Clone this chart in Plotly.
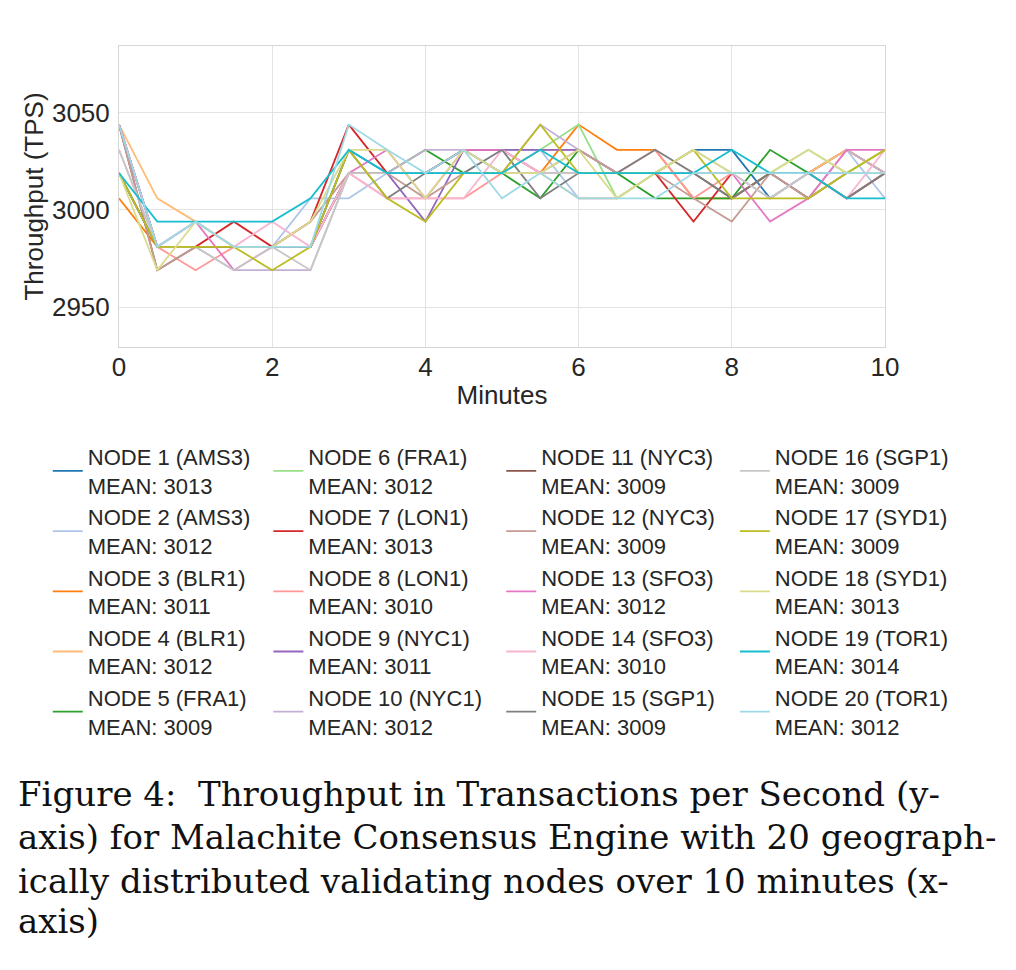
#!/usr/bin/env python3
"""
Throughput of the Malachite consensus engine, 20 validating nodes over 10 minutes
"""

import plotly.graph_objects as go

# Sample times (minutes)
minutes = [0, 0.5, 1, 1.5, 2, 2.5, 3, 3.5, 4, 4.5, 5,
           5.5, 6, 6.5, 7, 7.5, 8, 8.5, 9, 9.5, 10]

node_names = [
    'NODE 1 (AMS3)', 'NODE 2 (AMS3)', 'NODE 3 (BLR1)', 'NODE 4 (BLR1)',
    'NODE 5 (FRA1)', 'NODE 6 (FRA1)', 'NODE 7 (LON1)', 'NODE 8 (LON1)',
    'NODE 9 (NYC1)', 'NODE 10 (NYC1)', 'NODE 11 (NYC3)', 'NODE 12 (NYC3)',
    'NODE 13 (SFO3)', 'NODE 14 (SFO3)', 'NODE 15 (SGP1)', 'NODE 16 (SGP1)',
    'NODE 17 (SYD1)', 'NODE 18 (SYD1)', 'NODE 19 (TOR1)', 'NODE 20 (TOR1)',
]

node_means = [3013, 3012, 3011, 3012, 3009, 3012, 3013, 3010, 3011, 3012,
              3009, 3009, 3012, 3010, 3009, 3009, 3009, 3013, 3014, 3012]

# Throughput (TPS) per node
node1 = [3044, 2981, 2981, 2981, 2981, 2981, 3031, 3019, 3019, 3031, 3019,
         3019, 3019, 3019, 3019, 3031, 3031, 3006, 3019, 3031, 3019]
node2 = [3044, 2981, 2994, 2981, 2981, 3006, 3006, 3019, 3019, 3019, 3031,
         3031, 3006, 3006, 3019, 3019, 3019, 3019, 3019, 3031, 3006]
node3 = [3006, 2981, 2981, 2981, 2981, 2981, 3019, 3019, 3019, 3019, 3019,
         3019, 3044, 3031, 3031, 3006, 3006, 3019, 3019, 3031, 3019]
node4 = [3044, 3006, 2994, 2981, 2981, 2981, 3019, 3019, 3019, 3019, 3019,
         3019, 3006, 3006, 3019, 3019, 3019, 3019, 3019, 3031, 3019]
node5 = [3019, 2981, 2981, 2981, 2981, 2981, 3019, 3019, 3031, 3019, 3019,
         3006, 3031, 3019, 3006, 3006, 3006, 3031, 3019, 3019, 3019]
node6 = [3019, 2981, 2981, 2981, 2981, 2981, 3019, 3019, 3019, 3019, 3019,
         3031, 3044, 3006, 3019, 3019, 3019, 3019, 3031, 3019, 3031]
node7 = [3044, 2981, 2981, 2994, 2981, 2994, 3044, 3019, 3019, 3031, 3031,
         3019, 3019, 3019, 3019, 2994, 3019, 3019, 3019, 3006, 3019]
node8 = [3044, 2981, 2969, 2981, 2981, 2981, 3019, 3006, 3006, 3006, 3019,
         3031, 3031, 3019, 3031, 3006, 3019, 3019, 3019, 3019, 3019]
node9 = [3019, 2981, 2981, 2981, 2981, 2981, 3019, 3019, 2994, 3031, 3031,
         3031, 3031, 3019, 3019, 3019, 3019, 3019, 3019, 3019, 3019]
node10 = [3044, 2981, 2981, 2969, 2969, 2969, 3019, 3019, 3031, 3031, 3019,
          3044, 3031, 3019, 3019, 3019, 3019, 3019, 3006, 3031, 3019]
node11 = [3044, 2969, 2981, 2981, 2981, 2981, 3019, 3019, 3019, 3019, 3019,
          3019, 3019, 3019, 3019, 3019, 3006, 3019, 3006, 3019, 3019]
node12 = [3044, 2969, 2981, 2981, 2981, 2994, 3019, 3019, 3006, 3019, 3019,
          3019, 3031, 3019, 3019, 3006, 2994, 3019, 3006, 3019, 3019]
node13 = [3044, 2981, 2994, 2969, 2981, 2981, 3019, 3031, 3006, 3031, 3031,
          3019, 3019, 3019, 3019, 3019, 3019, 2994, 3006, 3031, 3031]
node14 = [3031, 2981, 2994, 2981, 2994, 2981, 3019, 3006, 3006, 3006, 3031,
          3019, 3019, 3019, 3019, 3019, 3019, 3006, 3019, 3006, 3031]
node15 = [3019, 2981, 2981, 2981, 2981, 2981, 3031, 3006, 3019, 3019, 3031,
          3006, 3019, 3019, 3031, 3019, 3006, 3019, 3019, 3006, 3019]
node16 = [3031, 2981, 2981, 2969, 2981, 2969, 3019, 3019, 3019, 3019, 3019,
          3019, 3019, 3019, 3019, 3031, 3019, 3006, 3019, 3019, 3019]
node17 = [3019, 2981, 2981, 2981, 2969, 2981, 3031, 3006, 2994, 3019, 3019,
          3044, 3019, 3019, 3019, 3031, 3006, 3006, 3006, 3019, 3031]
node18 = [3019, 2969, 2994, 2981, 2981, 2994, 3031, 3031, 3006, 3031, 3019,
          3019, 3031, 3006, 3019, 3031, 3019, 3019, 3031, 3019, 3019]
node19 = [3019, 2994, 2994, 2994, 2994, 3006, 3031, 3019, 3019, 3019, 3019,
          3031, 3019, 3019, 3019, 3019, 3031, 3019, 3019, 3006, 3006]
node20 = [3044, 2981, 2994, 2981, 2981, 2981, 3044, 3031, 3019, 3031, 3006,
          3019, 3006, 3006, 3006, 3019, 3019, 3019, 3019, 3019, 3019]

y_ticks = [2950, 3000, 3050]
x_ticks = [0, 2, 4, 6, 8, 10]

caption_lines = [
    'Figure 4:  Throughput in Transactions per Second (y-',
    'axis) for Malachite Consensus Engine with 20 geograph-',
    'ically distributed validating nodes over 10 minutes (x-',
    'axis)',
]

# matplotlib tab20
tab20 = ['#1f77b4', '#aec7e8', '#ff7f0e', '#ffbb78', '#2ca02c', '#98df8a',
         '#d62728', '#ff9896', '#9467bd', '#c5b0d5', '#8c564b', '#c49c94',
         '#e377c2', '#f7b6d2', '#7f7f7f', '#c7c7c7', '#bcbd22', '#dbdb8d',
         '#17becf', '#9edae5']

SANS = 'Liberation Sans, Arial, sans-serif'
SERIF = 'DejaVu Serif, serif'
INK = '#262626'


def create_figure():
    """Line chart with a 4 column legend and the figure caption underneath"""
    series = [node1, node2, node3, node4, node5, node6, node7, node8, node9, node10,
              node11, node12, node13, node14, node15, node16, node17, node18,
              node19, node20]

    fig = go.Figure()
    legend_ids = ['legend', 'legend2', 'legend3', 'legend4']
    for i, values in enumerate(series):
        fig.add_trace(go.Scatter(
            x=minutes, y=values, mode='lines',
            name=f'{node_names[i]}<br>MEAN: {node_means[i]}',
            line=dict(color=tab20[i], width=1.8),
            legend=legend_ids[i // 5],
        ))

    legend_style = dict(orientation='v', yanchor='top', y=-0.295, xanchor='left',
                        font=dict(family=SANS, size=22, color=INK),
                        bgcolor='rgba(0,0,0,0)', itemwidth=30, tracegroupgap=0)
    col_x = [-0.093, 0.195, 0.499, 0.804]

    fig.update_layout(
        width=1016, height=970,
        margin=dict(l=111, r=139, t=38, b=631),
        paper_bgcolor='white', plot_bgcolor='white',
        font=dict(family=SANS, color=INK),
        legend=dict(legend_style, x=col_x[0]),
        legend2=dict(legend_style, x=col_x[1]),
        legend3=dict(legend_style, x=col_x[2]),
        legend4=dict(legend_style, x=col_x[3]),
    )

    fig.update_xaxes(
        range=[0, 10], tickvals=x_ticks, ticks='', ticklabelstandoff=-3,
        tickfont=dict(size=26, color=INK),
        title=dict(text='Minutes', font=dict(size=26, color=INK), standoff=4),
        showgrid=True, gridcolor='#e3e3e3', gridwidth=1, zeroline=False,
        showline=True, linecolor='#d6d6d6', linewidth=1, mirror=True,
    )
    fig.update_yaxes(
        range=[2929.4, 3084.5], tickvals=y_ticks, ticks='', ticklabelstandoff=3,
        tickfont=dict(size=26, color=INK),
        title=dict(text='Throughput (TPS)', font=dict(size=26, color=INK), standoff=0),
        showgrid=True, gridcolor='#e3e3e3', gridwidth=1, zeroline=False,
        showline=True, linecolor='#d6d6d6', linewidth=1, mirror=True,
    )

    # Figure caption, one annotation per line
    caption_y = [-1.485, -1.628, -1.774, -1.908]
    for text, y in zip(caption_lines, caption_y):
        fig.add_annotation(
            text=text, xref='paper', yref='paper', x=-0.1345, y=y,
            xanchor='left', yanchor='middle', showarrow=False,
            font=dict(family=SERIF, size=34, color='#111111'),
        )

    return fig


if __name__ == "__main__":
    fig = create_figure()
    fig.write_html("out.html")
